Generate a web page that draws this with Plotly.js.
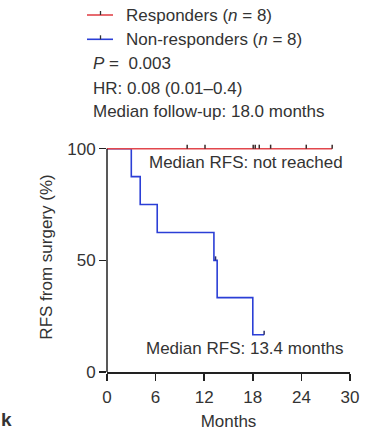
<!DOCTYPE html>
<html>
<head>
<meta charset="utf-8">
<script src="https://cdn.plot.ly/plotly-3.0.1.min.js"></script>
<style>html,body{margin:0;padding:0;background:#fff;}#chart{width:388px;height:438px;}</style>
</head>
<body>
<div id="chart"></div>
<script>
// Kaplan-Meier step data (months, % RFS)
const respTimes = [0, 27.8];
const respSurv = [100, 100];
const respCensorTimes = [9.9, 12.1, 18.05, 18.3, 18.8, 20.2, 24.6, 27.8];
const respCensorSurv = [100, 100, 100, 100, 100, 100, 100, 100];

const nonTimes = [0, 3.0, 4.1, 6.2, 13.2, 13.6, 18.0, 19.4];
const nonSurv = [100, 87.5, 75, 62.5, 50, 33.3, 16.7, 16.7];
const nonCensorTimes = [13.4, 19.4];
const nonCensorSurv = [50, 16.7];

const seriesNames = ['Responders (<i>n</i> = 8)', 'Non-responders (<i>n</i> = 8)'];
const statsLines = ['<i>P</i> =  0.003', 'HR: 0.08 (0.01–0.4)', 'Median follow-up: 18.0 months'];
const medianLabels = ['Median RFS: not reached', 'Median RFS: 13.4 months'];
const xTicks = [0, 6, 12, 18, 24, 30];
const yTicks = [0, 50, 100];

const RED = '#e2474d';
const BLUE = '#2b3fd6';
const TXT = '#333333';
const FONT = 'Liberation Sans, Arial, sans-serif';
const FS = 17;

function censor(x, y, color) {
  return {
    x: x, y: y, type: 'scatter', mode: 'markers', showlegend: false, hoverinfo: 'skip',
    marker: {size: 1, color: 'rgba(0,0,0,0)'}, cliponaxis: false,
    error_y: {type: 'data', symmetric: false, array: y.map(() => 1.8), arrayminus: y.map(() => 0),
              width: 0, thickness: 1.5, color: color}
  };
}

const traces = [
  {x: nonTimes, y: nonSurv, type: 'scatter', mode: 'lines', line: {shape: 'hv', color: BLUE, width: 1.6}, name: seriesNames[1], showlegend: false},
  {x: respTimes, y: respSurv, type: 'scatter', mode: 'lines', line: {shape: 'hv', color: RED, width: 1.6}, name: seriesNames[0], showlegend: false},
  censor(respCensorTimes, respCensorSurv, '#3a2a2a'),
  censor(nonCensorTimes, nonCensorSurv, '#2a2f6a')
];

// paper coordinate helpers (plot area: x 107..350, y 142..372)
const L = 107, R = 350, T = 142, B = 372;
const px = v => (v - L) / (R - L);
const py = v => (B - v) / (B - T);

const shapes = [
  // y-axis line drawn only from 0 to 100
  {type: 'line', xref: 'paper', yref: 'y', x0: 0, x1: 0, y0: 0, y1: yTicks[yTicks.length - 1], line: {color: '#222', width: 1.5}, layer: 'above'}
];
const annotations = [];
const legendColors = [RED, BLUE];
const legendRows = [15, 39.3];
legendRows.forEach((row, i) => {
  shapes.push({type: 'line', xref: 'paper', yref: 'paper', x0: px(87), x1: px(113), y0: py(row), y1: py(row), line: {color: legendColors[i], width: 1.6}});
  shapes.push({type: 'line', xref: 'paper', yref: 'paper', x0: px(100.5), x1: px(100.5), y0: py(row), y1: py(row - 4), line: {color: '#333', width: 1.3}});
  annotations.push({xref: 'paper', yref: 'paper', x: px(124), y: py(row), xanchor: 'left', yanchor: 'middle', showarrow: false, text: seriesNames[i], font: {family: FONT, size: FS, color: TXT}});
});
const statRows = [64, 88, 111.7];
statRows.forEach((row, i) => {
  annotations.push({xref: 'paper', yref: 'paper', x: px(91), y: py(row), xanchor: 'left', yanchor: 'middle', showarrow: false, text: statsLines[i], font: {family: FONT, size: FS, color: TXT}});
});
annotations.push({xref: 'x', yref: 'y', x: 4.95, y: 93.6, xanchor: 'left', yanchor: 'middle', showarrow: false, text: medianLabels[0], font: {family: FONT, size: FS, color: TXT}});
annotations.push({xref: 'x', yref: 'y', x: 4.55, y: 10.6, xanchor: 'left', yanchor: 'middle', showarrow: false, text: medianLabels[1], font: {family: FONT, size: FS, color: TXT}});
annotations.push({xref: 'paper', yref: 'paper', x: px(-1), y: py(419), xanchor: 'left', yanchor: 'middle', showarrow: false, text: '<b>k</b>', font: {family: FONT, size: 19, color: TXT}});

const layout = {
  width: 388, height: 438,
  margin: {l: L, r: 388 - R, t: T, b: 438 - B, pad: 0},
  paper_bgcolor: '#fff', plot_bgcolor: '#fff',
  font: {family: FONT, size: FS, color: TXT},
  showlegend: false,
  xaxis: {
    range: [0, 30], tickvals: xTicks, ticktext: xTicks.map(String),
    showline: true, linecolor: '#222', linewidth: 1.5, ticks: 'outside', ticklen: 7, tickwidth: 1.5, tickcolor: '#222',
    showgrid: false, zeroline: false, tickfont: {size: FS, color: TXT}, ticklabelstandoff: 2,
    title: {text: 'Months', font: {size: FS, color: TXT}, standoff: 9}
  },
  yaxis: {
    range: [0, 103], tickvals: yTicks, ticktext: yTicks.map(String),
    showline: false, ticks: 'outside', ticklen: 7, tickwidth: 1.5, tickcolor: '#222',
    showgrid: false, zeroline: false, tickfont: {size: FS, color: TXT},
    title: {text: 'RFS from surgery (%)', font: {size: FS, color: TXT}, standoff: 10}
  },
  shapes: shapes,
  annotations: annotations
};

Plotly.newPlot('chart', traces, layout, {staticPlot: true, displayModeBar: false});
</script>
</body>
</html>
